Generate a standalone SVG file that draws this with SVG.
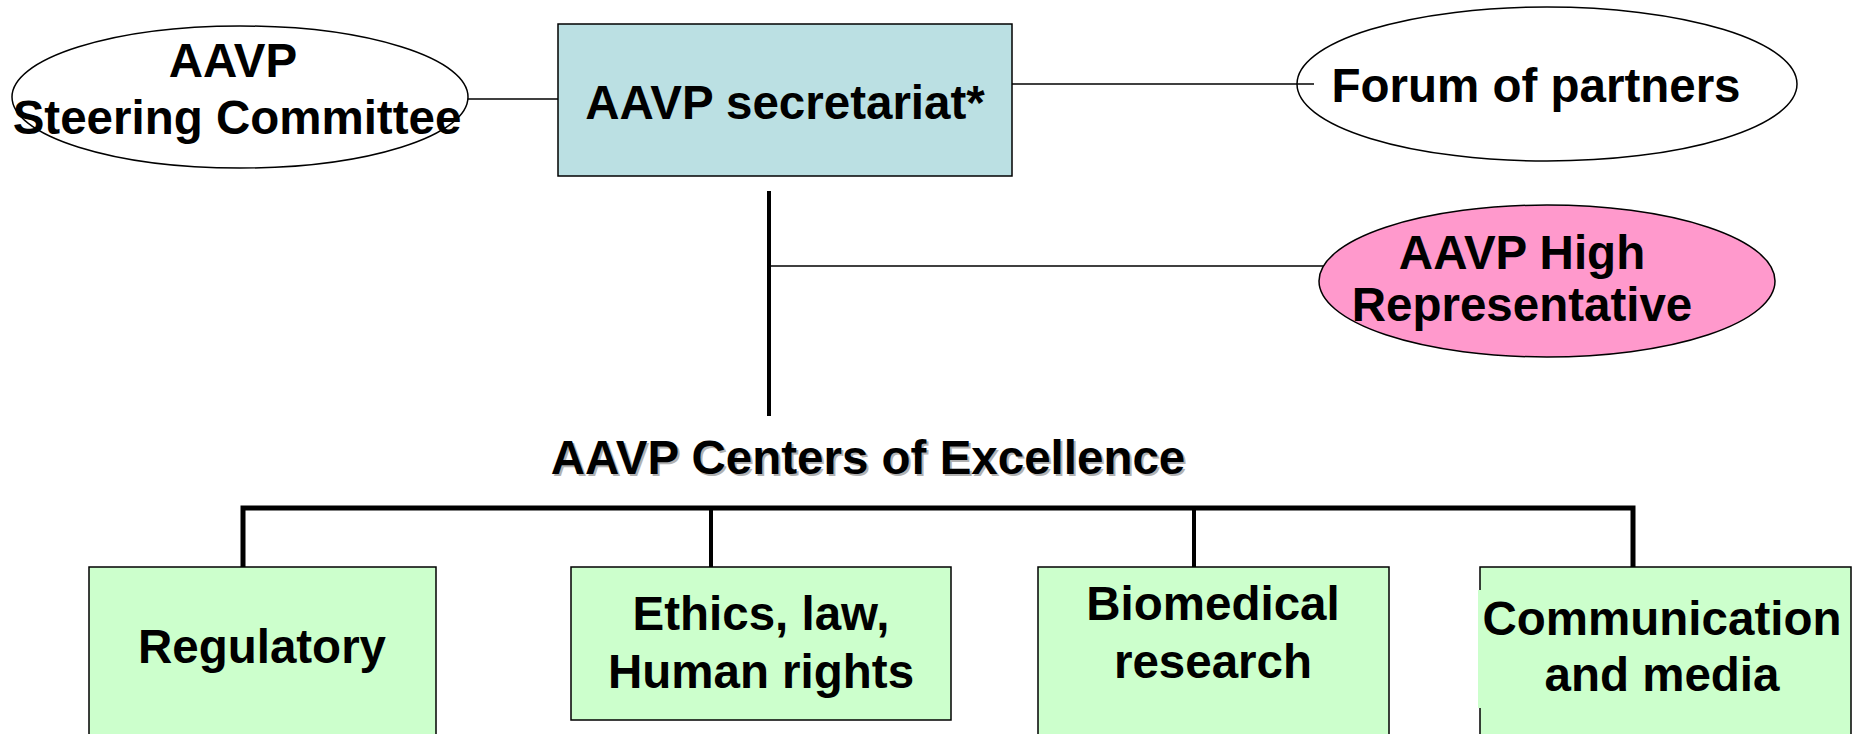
<svg xmlns="http://www.w3.org/2000/svg" width="1853" height="734" viewBox="0 0 1853 734">
<style>
text{font-family:"Liberation Sans",Arial,sans-serif;font-weight:bold;font-size:47.5px;fill:#000;text-anchor:middle}
.thin{stroke:#000;stroke-width:1.5;fill:none}
.thick{stroke:#000;stroke-width:4;fill:none}
.bus{stroke:#000;stroke-width:5;fill:none}
.box{stroke:#000;stroke-width:1.5}
.green{fill:#CCFFCC}
.shadow{fill:#B2B2B2}
</style>
<rect width="1853" height="734" fill="#fff"/>
<g id="connectors">
<line class="thin" x1="467" y1="99" x2="558" y2="99"/>
<line class="thin" x1="1012" y1="84" x2="1314" y2="84"/>
<line class="thick" x1="769" y1="191" x2="769" y2="416"/>
<line class="thin" x1="769" y1="266" x2="1326" y2="266"/>
<polyline class="bus" points="243,567 243,508 1633,508 1633,567"/>
<line class="thick" x1="711" y1="508" x2="711" y2="567"/>
<line class="thick" x1="1194" y1="508" x2="1194" y2="567"/>
</g>
<g id="steering">
<ellipse cx="240" cy="97" rx="228" ry="71" fill="#fff" class="box"/>
<text x="233" y="77">AAVP</text>
<text x="237" y="134">Steering Committee</text>
</g>
<g id="secretariat">
<rect x="558" y="24" width="454" height="152" fill="#BBE0E3" class="box"/>
<text x="785" y="119">AAVP secretariat*</text>
</g>
<g id="forum">
<ellipse cx="1547" cy="84" rx="250" ry="77" fill="none" class="box"/>
<text x="1536" y="102">Forum of partners</text>
</g>
<g id="highrep">
<ellipse cx="1547" cy="281" rx="228" ry="76" fill="#FF99CC" class="box"/>
<text x="1522" y="269">AAVP High</text>
<text x="1522" y="321">Representative</text>
</g>
<g id="centers">
<text class="shadow" x="870" y="476">AAVP Centers of Excellence</text>
<text x="868" y="474">AAVP Centers of Excellence</text>
</g>
<g id="regulatory">
<rect x="89" y="567" width="347" height="180" class="box green"/>
<text x="262" y="663">Regulatory</text>
</g>
<g id="ethics">
<rect x="571" y="567" width="380" height="153" class="box green"/>
<text x="761" y="630">Ethics, law,</text>
<text x="761" y="688">Human rights</text>
</g>
<g id="biomedical">
<rect x="1038" y="567" width="351" height="180" class="box green"/>
<text x="1213" y="620">Biomedical</text>
<text x="1213" y="678">research</text>
</g>
<g id="communication">
<rect x="1480" y="567" width="371" height="180" class="box green"/>
<rect x="1478" y="590" width="5" height="118" class="green"/>
<text x="1662" y="635">Communication</text>
<text x="1662" y="691">and media</text>
</g>
</svg>
